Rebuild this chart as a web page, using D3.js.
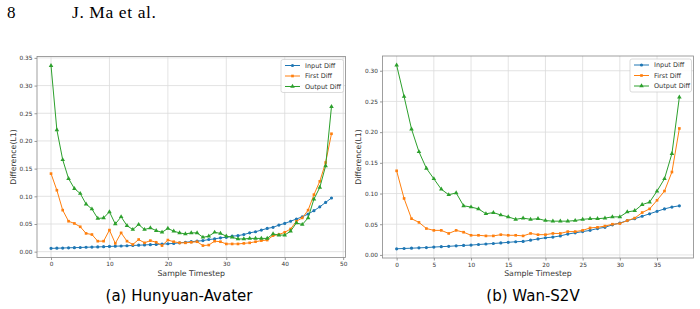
<!DOCTYPE html>
<html>
<head>
<meta charset="utf-8">
<script src="https://cdn.jsdelivr.net/npm/d3@7"></script>
<style>
  body { margin: 0; background: #fff; }
  svg { display: block; }
  .tick text { font-family: "DejaVu Sans", sans-serif; font-size: 5.8px; fill: #333; }
</style>
</head>
<body>
<div id="chart"></div>
<script>
// Hunyuan-Avater, timesteps 0..48
var stepsA = d3.range(0, 49);
var inputA = [0.006, 0.0063, 0.0066, 0.007, 0.0073, 0.0076, 0.008, 0.0083, 0.0086, 0.009,
  0.0095, 0.0099, 0.0103, 0.0107, 0.0112, 0.0117, 0.0122, 0.0127, 0.0132, 0.0137,
  0.0143, 0.015, 0.016, 0.017, 0.018, 0.019, 0.020, 0.022, 0.023, 0.025,
  0.026, 0.028, 0.029, 0.031, 0.034, 0.036, 0.039, 0.042, 0.044, 0.048,
  0.051, 0.055, 0.059, 0.063, 0.068, 0.074, 0.081, 0.089, 0.097];
var firstA = [0.141, 0.111, 0.075, 0.055, 0.051, 0.045, 0.033, 0.031, 0.019, 0.019,
  0.039, 0.015, 0.034, 0.019, 0.013, 0.022, 0.016, 0.020, 0.017, 0.011,
  0.021, 0.018, 0.016, 0.016, 0.017, 0.018, 0.011, 0.012, 0.019, 0.018,
  0.014, 0.014, 0.014, 0.015, 0.016, 0.018, 0.020, 0.021, 0.029, 0.031,
  0.035, 0.041, 0.055, 0.061, 0.075, 0.103, 0.127, 0.161, 0.213];
var outputA = [0.336, 0.220, 0.166, 0.132, 0.114, 0.105, 0.086, 0.077, 0.060, 0.061,
  0.072, 0.050, 0.063, 0.047, 0.040, 0.049, 0.040, 0.043, 0.038, 0.035,
  0.042, 0.037, 0.034, 0.032, 0.034, 0.034, 0.026, 0.028, 0.035, 0.033,
  0.028, 0.026, 0.023, 0.023, 0.024, 0.024, 0.024, 0.024, 0.032, 0.030,
  0.030, 0.037, 0.052, 0.049, 0.061, 0.095, 0.116, 0.155, 0.262];

// Wan-S2V, timesteps 0..38
var stepsB = d3.range(0, 39);
var inputB = [0.010, 0.0105, 0.011, 0.0115, 0.012, 0.0128, 0.0135, 0.014, 0.0148, 0.0155,
  0.016, 0.017, 0.0178, 0.0186, 0.0195, 0.0205, 0.0215, 0.022, 0.024, 0.026,
  0.028, 0.029, 0.031, 0.034, 0.036, 0.038, 0.040, 0.043, 0.045, 0.049,
  0.052, 0.056, 0.059, 0.063, 0.067, 0.071, 0.075, 0.078, 0.080];
var firstB = [0.137, 0.092, 0.059, 0.053, 0.043, 0.040, 0.040, 0.035, 0.040, 0.037,
  0.032, 0.032, 0.031, 0.031, 0.033, 0.032, 0.032, 0.031, 0.035, 0.033,
  0.033, 0.035, 0.035, 0.038, 0.038, 0.040, 0.044, 0.045, 0.047, 0.050,
  0.051, 0.056, 0.060, 0.069, 0.075, 0.089, 0.104, 0.135, 0.206];
var outputB = [0.309, 0.258, 0.205, 0.168, 0.141, 0.124, 0.107, 0.098, 0.101, 0.080,
  0.078, 0.075, 0.067, 0.069, 0.065, 0.062, 0.058, 0.060, 0.058, 0.059,
  0.056, 0.055, 0.055, 0.055, 0.056, 0.058, 0.059, 0.059, 0.060, 0.062,
  0.062, 0.070, 0.072, 0.082, 0.086, 0.104, 0.124, 0.165, 0.257];

var seriesNames = ["Input Diff", "First Diff", "Output Diff"];
var colors = ["#1f77b4", "#ff7f0e", "#2ca02c"];
var symbols = [d3.symbolCircle, d3.symbolSquare, d3.symbolTriangle];
var symbolSizes = [8, 7, 9];

var ticksA = [0, 10, 20, 30, 40, 50];
var ticksB = [0, 5, 10, 15, 20, 25, 30, 35];
var yTicksA = [0, 0.05, 0.1, 0.15, 0.2, 0.25, 0.3, 0.35];
var yTicksB = [0, 0.05, 0.1, 0.15, 0.2, 0.25, 0.3];

var width = 700, height = 309;

var svg = d3.select("#chart").append("svg")
  .attr("width", width).attr("height", height);

// page header
svg.append("text").attr("x", 7).attr("y", 18)
  .style("font-family", "'Liberation Serif', 'DejaVu Serif', serif").style("font-size", "17px")
  .text("8");
svg.append("text").attr("x", 72).attr("y", 18)
  .style("font-family", "'Liberation Serif', 'DejaVu Serif', serif").style("font-size", "17.5px")
  .style("letter-spacing", "0.6px")
  .text("J. Ma et al.");

function drawPanel(cfg) {
  var x = d3.scaleLinear().domain(cfg.xDomain).range([cfg.left, cfg.right]);
  var y = d3.scaleLinear().domain(cfg.yDomain).range([cfg.bottom, cfg.top]);
  var g = svg.append("g");

  // grid
  g.append("g").selectAll("line").data(cfg.xTicks).enter().append("line")
    .attr("x1", d => x(d)).attr("x2", d => x(d))
    .attr("y1", cfg.top).attr("y2", cfg.bottom)
    .style("stroke", "#dcdcdc").style("stroke-width", 0.8);
  g.append("g").selectAll("line").data(cfg.yTicks).enter().append("line")
    .attr("x1", cfg.left).attr("x2", cfg.right)
    .attr("y1", d => y(d)).attr("y2", d => y(d))
    .style("stroke", "#dcdcdc").style("stroke-width", 0.8);

  // axes
  var xAxis = d3.axisBottom(x).tickValues(cfg.xTicks).tickSize(2.5).tickPadding(2);
  var yAxis = d3.axisLeft(y).tickValues(cfg.yTicks).tickSize(2.5).tickPadding(2)
    .tickFormat(d3.format(".2f"));
  var gx = g.append("g").attr("transform", `translate(0,${cfg.bottom})`).call(xAxis);
  var gy = g.append("g").attr("transform", `translate(${cfg.left},0)`).call(yAxis);
  [gx, gy].forEach(a => {
    a.select(".domain").remove();
    a.selectAll(".tick line").style("stroke", "#555").style("stroke-width", 0.6);
  });

  // frame
  g.append("rect").attr("x", cfg.left).attr("y", cfg.top)
    .attr("width", cfg.right - cfg.left).attr("height", cfg.bottom - cfg.top)
    .style("fill", "none").style("stroke", "#888").style("stroke-width", 0.8);

  // lines
  var line = d3.line().x((d, i) => x(cfg.steps[i])).y(d => y(d));
  cfg.series.forEach((vals, k) => {
    g.append("path").attr("d", line(vals))
      .style("fill", "none").style("stroke", colors[k]).style("stroke-width", 1);
    g.append("g").selectAll("path").data(vals).enter().append("path")
      .attr("transform", (d, i) => `translate(${x(cfg.steps[i])},${y(d)})`)
      .attr("d", d3.symbol().type(symbols[k]).size(symbolSizes[k]))
      .style("fill", colors[k]);
  });

  // legend
  var lg = g.append("g");
  lg.append("rect").attr("x", cfg.legX).attr("y", cfg.top + 3)
    .attr("width", cfg.right - 2 - cfg.legX).attr("height", 33).attr("rx", 2)
    .style("fill", "#fff").style("fill-opacity", 0.85)
    .style("stroke", "#ccc").style("stroke-width", 0.7);
  seriesNames.forEach((name, k) => {
    var yy = cfg.top + 9 + k * 10.5;
    lg.append("line").attr("x1", cfg.legX + 4).attr("x2", cfg.legX + 19)
      .attr("y1", yy).attr("y2", yy)
      .style("stroke", colors[k]).style("stroke-width", 1);
    lg.append("path").attr("transform", `translate(${cfg.legX + 11.5},${yy})`)
      .attr("d", d3.symbol().type(symbols[k]).size(symbolSizes[k]))
      .style("fill", colors[k]);
    lg.append("text").attr("x", cfg.legX + 24).attr("y", yy + 2.3)
      .style("font-family", "'DejaVu Sans', sans-serif").style("font-size", "6.5px")
      .style("fill", "#333").text(name);
  });

  // axis labels
  g.append("text").attr("x", (cfg.left + cfg.right) / 2).attr("y", cfg.bottom + 18)
    .attr("text-anchor", "middle")
    .style("font-family", "'DejaVu Sans', sans-serif").style("font-size", "7.8px")
    .style("fill", "#333").text("Sample Timestep");
  g.append("text")
    .attr("transform", `translate(${cfg.yLabelX},${(cfg.top + cfg.bottom) / 2}) rotate(-90)`)
    .attr("text-anchor", "middle")
    .style("font-family", "'DejaVu Sans', sans-serif").style("font-size", "7.8px")
    .style("fill", "#333").text("Difference(L1)");

  // caption
  svg.append("text").attr("x", cfg.capX).attr("y", 301)
    .attr("text-anchor", "middle")
    .style("font-family", "'Comic Sans MS', 'DejaVu Sans', sans-serif").style("font-size", "15px")
    .text(cfg.caption);
}

drawPanel({
  steps: stepsA, series: [inputA, firstA, outputA],
  xDomain: [-2.4, 50.4], yDomain: [-0.0105, 0.3525],
  left: 37, right: 345.5, top: 56.5, bottom: 257.5,
  xTicks: ticksA, yTicks: yTicksA, legX: 281, yLabelX: 16,
  caption: "(a) Hunyuan-Avater", capX: 179
});
drawPanel({
  steps: stepsB, series: [inputB, firstB, outputB],
  xDomain: [-1.9, 39.9], yDomain: [-0.005, 0.324],
  left: 382.5, right: 693.5, top: 56, bottom: 258,
  xTicks: ticksB, yTicks: yTicksB, legX: 630, yLabelX: 361,
  caption: "(b) Wan-S2V", capX: 533
});
</script>
</body>
</html>
